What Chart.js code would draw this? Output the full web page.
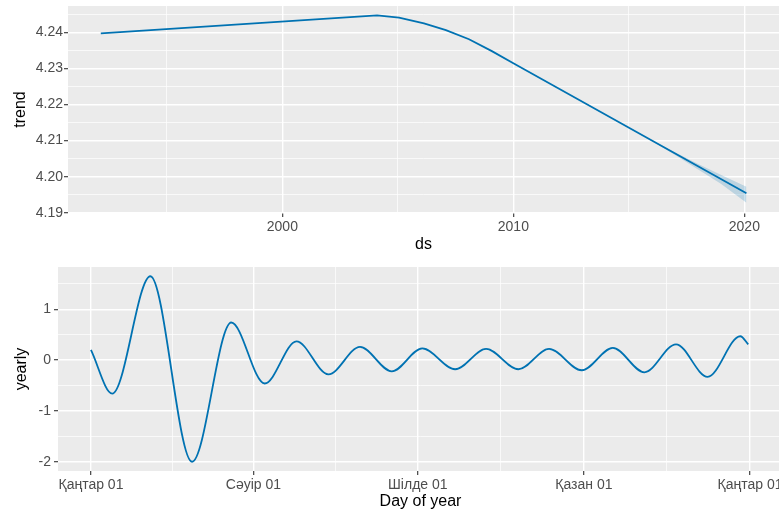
<!DOCTYPE html>
<html>
<head>
<meta charset="utf-8">
<script src="https://cdn.jsdelivr.net/npm/chart.js@4.4.1/dist/chart.umd.min.js"></script>
<style>
  html, body { margin: 0; padding: 0; background: #ffffff; }
  #wrap { position: relative; width: 779px; height: 514px; overflow: hidden; }
  #trendChart { position: absolute; left: 0; top: 0; }
  #yearlyChart { position: absolute; left: 0; top: 257px; }
</style>
</head>
<body>
<div id="wrap">
  <canvas id="trendChart" width="779" height="257"></canvas>
  <canvas id="yearlyChart" width="800" height="257"></canvas>
</div>
<script>
// ---- Trend component (decimal years) ----
const trendYears  = [1992.14, 2004.10, 2005.05, 2006.13, 2007.08, 2008.08, 2009.07, 2009.98, 2020.09];
const trendValues = [4.2397, 4.2447, 4.2441, 4.2425, 4.2406, 4.2381, 4.2348, 4.2315, 4.1954];

// Uncertainty interval of the trend over the forecast horizon
const bandYears = [2016.0, 2017.0, 2018.0, 2019.0, 2020.09];
const bandUpper = [4.2101, 4.2068, 4.2035, 4.2005, 4.1972];
const bandLower = [4.2099, 4.2060, 4.2020, 4.1980, 4.1928];

const trendXTicks = [2000, 2010, 2020];
const trendYTicks = [4.19, 4.20, 4.21, 4.22, 4.23, 4.24];

// ---- Yearly seasonality (day of year -> component value) ----
const yearlyDays   = [0, 11.8, 32.9, 56.0, 77.7, 96.2, 113.8, 131.5, 149.0, 166.6, 183.5,
                      201.7, 218.8, 236.7, 253.7, 271.8, 289.0, 306.5, 324.0, 341.5, 359.6, 364.0];
const yearlyValues = [0.20, -0.66, 1.65, -2.00, 0.74, -0.46, 0.37, -0.28, 0.26, -0.22, 0.23,
                      -0.18, 0.22, -0.18, 0.22, -0.20, 0.24, -0.24, 0.31, -0.33, 0.47, 0.31];

const monthTickDays   = [0, 90, 181, 273, 365];
const monthTickLabels = ['Қаңтар 01', 'Сәуір 01', 'Шілде 01', 'Қазан 01', 'Қаңтар 01'];
const yearlyYTicks    = [-2, -1, 0, 1];

// ---- Styling ----
const LINE = '#0072B2';
const BAND = 'rgba(0,114,178,0.2)';
const PANEL = '#EBEBEB';
const GRID = '#FFFFFF';
const TICK_TEXT = '#4D4D4D';
const TICK_MARK = '#333333';

Chart.defaults.font.family = '"Liberation Sans", Arial, Helvetica, sans-serif';

// Grey plotting panel behind the grid
const panelBackground = {
  id: 'panelBackground',
  beforeDraw(chart) {
    const { ctx, chartArea: a } = chart;
    ctx.save();
    ctx.fillStyle = PANEL;
    ctx.fillRect(a.left, a.top, a.right - a.left, a.bottom - a.top);
    ctx.restore();
  }
};

// Major breaks plus minor breaks halfway between them (kept inside the range)
function withMinor(majors, min, max) {
  const step = majors[1] - majors[0];
  const out = [{ value: majors[0] - step / 2, minor: true }];
  majors.forEach((v, i) => {
    if (i > 0) out.push({ value: (majors[i - 1] + v) / 2, minor: true });
    out.push({ value: v, minor: false });
  });
  out.push({ value: majors[majors.length - 1] + step / 2, minor: true });
  return out.filter(t => t.value >= min && t.value <= max);
}

function fixBox(scale, w, h) {
  if (w !== null) scale.width = w;
  if (h !== null) scale.height = h;
  scale.paddingTop = 0; scale.paddingBottom = 0;
  scale.paddingLeft = 0; scale.paddingRight = 0;
}

const isMinor = ctx => !!(ctx.tick && ctx.tick.minor);
const gridOpts = {
  color: GRID,
  lineWidth: ctx => isMinor(ctx) ? 0.7 : 1.4,
  tickColor: ctx => isMinor(ctx) ? 'rgba(0,0,0,0)' : TICK_MARK,
  tickWidth: 1.1,
  tickLength: 4,
  drawTicks: true
};

function axisTitle(text, padding) {
  return { display: true, text: text, color: '#000000', font: { size: 16 }, padding: padding };
}

function tickOpts(fmt, pad) {
  return {
    autoSkip: false, maxRotation: 0, minRotation: 0, padding: pad,
    color: TICK_TEXT, font: { size: 14 },
    callback: (v, i, t) => t[i].minor ? '' : fmt(v)
  };
}

const common = {
  responsive: false,
  animation: false,
  devicePixelRatio: 1,
  plugins: { legend: { display: false }, tooltip: { enabled: false } },
  elements: { point: { radius: 0 } }
};

// ---- Trend panel ----
const tX = { min: 1990.72, max: 2021.5 };
const tY = { min: 4.18995, max: 4.2473 };

new Chart(document.getElementById('trendChart'), {
  type: 'line',
  data: {
    datasets: [
      {
        label: 'trend',
        data: trendYears.map((x, i) => ({ x: x, y: trendValues[i] })),
        borderColor: LINE, borderWidth: 1.8, tension: 0, fill: false
      },
      {
        label: 'trend_lower',
        data: bandYears.map((x, i) => ({ x: x, y: bandLower[i] })),
        borderColor: 'rgba(0,0,0,0)', borderWidth: 0, fill: false
      },
      {
        label: 'trend_upper',
        data: bandYears.map((x, i) => ({ x: x, y: bandUpper[i] })),
        borderColor: 'rgba(0,0,0,0)', borderWidth: 0, fill: '-1', backgroundColor: BAND
      }
    ]
  },
  options: Object.assign({}, common, {
    layout: { padding: { top: 6, left: 0, right: 0, bottom: 0 } },
    scales: {
      x: {
        type: 'linear', min: tX.min, max: tX.max,
        afterBuildTicks: s => { s.ticks = withMinor(trendXTicks, tX.min, tX.max); },
        afterFit: s => fixBox(s, null, 44),
        ticks: tickOpts(v => String(Math.round(v)), 2),
        grid: gridOpts,
        border: { display: false },
        title: axisTitle('ds', { top: 0, bottom: 2.4 })
      },
      y: {
        type: 'linear', min: tY.min, max: tY.max,
        afterBuildTicks: s => { s.ticks = withMinor(trendYTicks, tY.min, tY.max); },
        afterFit: s => fixBox(s, 68, null),
        ticks: tickOpts(v => v.toFixed(2), 1),
        grid: gridOpts,
        border: { display: false },
        title: axisTitle('trend', { top: 11, bottom: 0 })
      }
    }
  }),
  plugins: [panelBackground]
});

// ---- Yearly seasonality panel ----
const yX = { min: -18.25, max: 383.25 };
const yY = { min: -2.1825, max: 1.8325 };

new Chart(document.getElementById('yearlyChart'), {
  type: 'line',
  data: {
    datasets: [{
      label: 'yearly',
      data: yearlyDays.map((x, i) => ({ x: x, y: yearlyValues[i] })),
      borderColor: LINE, borderWidth: 1.8, fill: false,
      cubicInterpolationMode: 'monotone'
    }]
  },
  options: Object.assign({}, common, {
    layout: { padding: { top: 10, left: 0, right: 17, bottom: 0 } },
    scales: {
      x: {
        type: 'linear', min: yX.min, max: yX.max,
        afterBuildTicks: s => { s.ticks = withMinor(monthTickDays, yX.min, yX.max); },
        afterFit: s => fixBox(s, null, 43),
        ticks: tickOpts(v => monthTickLabels[monthTickDays.indexOf(v)] || '', 2),
        grid: gridOpts,
        border: { display: false },
        title: axisTitle('Day of year', { top: 0, bottom: 2.4 })
      },
      y: {
        type: 'linear', min: yY.min, max: yY.max,
        afterBuildTicks: s => { s.ticks = withMinor(yearlyYTicks, yY.min, yY.max); },
        afterFit: s => fixBox(s, 58, null),
        ticks: tickOpts(v => String(v), 3),
        grid: gridOpts,
        border: { display: false },
        title: axisTitle('yearly', { top: 12, bottom: 0 })
      }
    }
  }),
  plugins: [panelBackground]
});
</script>
</body>
</html>
